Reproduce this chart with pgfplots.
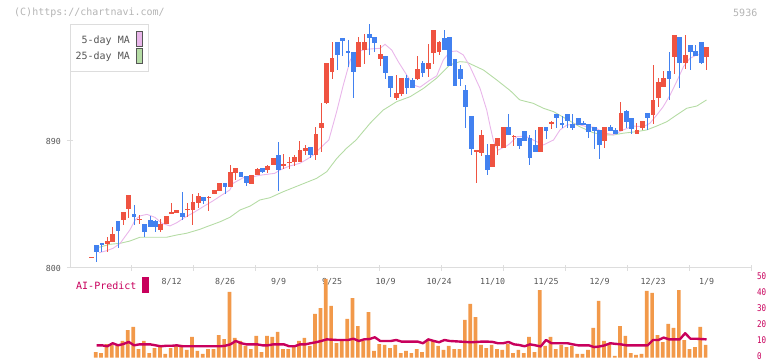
\documentclass[border=0pt]{standalone}
\usepackage{fontspec}
\usepackage{pgfplots}
\usepackage{pgfplotstable}
\pgfplotsset{compat=1.18}
\newfontfamily\cf{DejaVu Sans Mono}
\newfontfamily\cfn[FakeStretch=0.82]{DejaVu Sans Mono}
\definecolor{cred}{HTML}{EF5341}
\definecolor{cblue}{HTML}{4281F0}
\definecolor{cpink}{HTML}{E9B6EA}
\definecolor{cgreen}{HTML}{B5DCA5}
\definecolor{corange}{HTML}{F2994A}
\definecolor{cmag}{HTML}{C8005C}
\definecolor{caxis}{HTML}{DDDDDD}
\definecolor{ctext}{HTML}{555555}
\definecolor{clight}{HTML}{B4B4B4}

\pgfplotstableread{
i o h l c
0 807.4 807.8 807.4 807.8
3 817.2 821.8 811.3 819.1
4 818.6 829.1 818.6 824.1
6 834.2 839.7 830.5 839.7
7 841.6 851.7 835.2 851.7
9 834.3 837.6 831.0 834.7
13 827.1 834.5 825.7 831.2
14 831.4 836.9 831.4 836.9
15 838.5 846.3 838.5 839.7
16 839.2 841.3 839.2 841.3
18 841.6 845.8 836.4 842.0
19 841.3 852.2 830.7 846.8
20 846.1 853.2 842.5 851.0
22 850.1 851.2 840.4 850.5
23 852.7 855.3 852.7 855.3
24 854.8 860.2 854.8 860.2
26 857.6 873.2 857.6 868.0
27 867.3 870.9 862.4 870.9
30 859.7 865.9 859.7 865.9
31 866.1 870.9 866.1 870.2
33 869.7 873.0 867.5 872.3
34 873.0 878.0 873.0 878.0
36 872.5 880.8 870.2 873.9
37 874.9 878.7 870.2 875.3
38 875.3 880.1 872.5 878.7
39 875.1 890.0 875.1 883.6
40 882.9 887.2 880.1 885.0
42 880.1 899.9 876.5 895.0
43 899.2 916.9 882.4 902.8
44 917.2 945.3 916.4 945.3
45 939.1 960.2 933.9 948.8
50 942.7 963.7 942.7 960.2
51 954.5 965.8 944.6 960.2
54 948.1 958.0 943.4 951.7
57 920.5 936.8 919.3 924.0
58 923.5 934.7 922.1 934.7
61 933.9 950.2 933.2 941.0
63 941.0 958.7 935.6 945.3
64 952.6 968.7 944.8 968.7
65 953.1 960.9 951.2 960.2
72 882.9 883.6 860.5 883.3
73 881.7 897.8 879.6 894.3
75 871.8 887.9 871.8 887.9
76 886.7 892.1 879.9 892.1
77 885.3 899.9 885.3 899.9
79 893.3 894.3 886.5 893.7
84 882.4 899.9 882.4 899.9
86 902.6 904.2 898.5 903.0
96 890.2 899.9 885.3 899.9
99 897.1 917.6 897.1 909.7
102 895.0 902.8 895.0 897.8
103 899.2 904.2 897.8 904.2
105 908.4 943.9 902.0 919.1
106 920.5 934.7 914.1 931.8
107 928.3 939.6 928.3 934.7
109 949.5 965.1 937.5 965.1
111 945.3 965.1 941.0 951.0
115 949.5 956.6 940.3 956.6
}\redtab

\pgfplotstableread{
i o h l c
1 816.1 816.1 804.5 811.6
2 817.7 817.7 811.6 816.3
5 833.3 833.3 814.4 826.5
8 838.3 844.6 830.5 836.4
10 831.2 831.2 822.2 825.7
11 834.0 836.9 829.3 829.3
12 833.3 834.0 825.7 829.3
17 839.0 854.1 834.0 836.4
21 850.3 850.3 845.4 847.7
25 860.2 860.2 852.4 857.6
28 868.0 868.0 864.7 864.7
29 865.2 865.2 858.3 860.5
32 870.9 870.9 867.5 868.2
35 880.1 889.3 854.8 869.7
41 885.7 885.7 878.2 880.1
46 960.2 960.2 940.5 951.2
47 963.0 963.0 950.5 961.1
48 953.8 961.6 942.7 952.6
49 953.1 953.1 920.7 939.1
52 965.8 972.9 951.2 963.2
53 963.7 963.7 953.3 959.5
55 950.2 950.2 934.2 938.4
56 936.1 936.1 921.2 927.6
59 934.7 936.8 923.5 927.6
60 933.2 934.7 927.6 927.6
62 945.3 946.7 935.6 938.4
66 963.0 968.7 954.5 954.5
67 963.7 963.7 943.4 943.4
68 948.1 948.1 929.2 929.2
69 941.0 943.9 929.2 934.2
70 926.4 929.9 899.4 914.3
71 907.7 907.7 880.3 884.5
74 880.1 887.9 866.1 869.7
78 899.9 909.1 894.5 894.5
80 892.1 892.1 884.5 886.7
81 897.1 897.1 890.2 890.2
82 892.1 894.3 873.2 878.2
83 887.2 897.8 882.4 882.4
85 899.9 899.9 891.4 897.1
87 909.1 909.1 899.2 906.3
88 902.8 907.7 899.2 901.3
89 909.1 909.1 899.2 904.2
90 902.0 909.1 897.8 899.2
91 906.3 906.3 901.3 901.3
92 902.8 904.2 901.3 901.3
93 902.0 902.0 892.1 896.4
94 899.9 899.9 884.5 897.1
95 897.8 897.8 877.5 887.4
97 899.9 901.3 897.1 897.1
98 897.8 899.2 895.0 895.0
100 911.1 912.0 899.2 903.5
101 906.3 906.3 895.0 898.5
104 909.7 909.7 897.8 906.3
108 939.6 953.1 919.1 933.9
110 963.7 963.7 927.6 945.3
112 958.0 958.0 940.3 953.1
113 953.8 958.0 950.2 950.2
114 960.2 960.2 944.6 945.3
}\bluetab

\begin{document}
\begin{tikzpicture}[x=1pt,y=1pt]
\useasboundingbox (0,0) rectangle (772,361);

% ---------------- price panel ----------------
\begin{axis}[
  at={(70pt,93pt)}, anchor=south west, scale only axis,
  width=682pt, height=244pt,
  xmin=-3.98, xmax=123.5, ymin=800, ymax=972.9,
  axis lines*=left,
  axis line style={draw=caxis, line width=1pt},
  xtick={7.607,19.196,30.785,42.374,53.963,65.552,77.141,88.730,100.318,111.907,123.496},
  xticklabels={},
  extra x ticks={15,25,35,45,55,65,75,85,95,105,115},
  extra x tick labels={8/12,8/26,9/9,9/25,10/9,10/24,11/10,11/25,12/9,12/23,1/9},
  extra x tick style={major tick length=0pt,
     xticklabel style={font=\cf\fontsize{8.3}{10}\selectfont, text=ctext, anchor=base, inner sep=0pt, yshift=-16.2pt}},
  ytick={800,890}, yticklabels={800,890},
  tick align=center, major tick length=6pt,
  tick style={draw=caxis, line width=1pt},
  yticklabel style={font=\cf\fontsize{8.3}{10}\selectfont, text=ctext, anchor=east, inner sep=0pt, xshift=-6pt},
  clip=false,
]
% moving averages
\addplot[cgreen, line width=0.9pt] coordinates {
(1.5,814.7)(3.5,816.8)(5.4,817.5)(7.2,819.1)(9.1,821.8)(14.1,821.8)(16.0,823.4)(17.8,824.6)
(20.3,827.4)(21.6,829.3)(24.1,832.8)(25.9,835.9)(27.8,841.1)(29.7,843.9)(31.5,848.2)(33.4,849.8)
(35.9,854.1)(39.0,858.8)(42.1,863.5)(44.0,868.2)(45.9,877.7)(47.7,884.8)(49.5,890.7)(52.1,902.5)
(54.6,912.0)(57.1,917.9)(59.6,921.4)(62.1,927.3)(64.5,934.4)(67.0,943.9)(68.9,946.2)(70.2,945.8)
(73.3,940.3)(75.8,933.2)(78.3,925.7)(80.1,919.1)(82.6,916.7)(84.5,913.2)(86.4,910.8)(88.9,905.4)
(91.3,900.1)(93.8,895.9)(95.7,894.3)(97.6,894.3)(99.4,895.5)(101.9,896.6)(103.8,897.8)(105.7,900.6)
(107.6,903.7)(109.4,908.4)(111.3,913.2)(113.2,914.8)(115.0,919.1)};
\addplot[cpink, line width=0.9pt] coordinates {
(1.46,810.8)(2.9,812.3)(4.1,814.0)(5.4,817.5)(7.2,826.9)(8.2,834.0)(9.1,836.9)(10.4,838.0)
(11.9,835.9)(13.2,831.7)(14.7,829.8)(16.0,832.1)(17.5,835.9)(19.1,839.2)(20.9,843.4)(22.8,847.7)
(24.4,851.7)(25.9,855.3)(26.5,860.0)(28.4,864.0)(30.3,864.7)(31.5,865.7)(34.3,867.1)(35.3,869.5)
(37.1,872.3)(39.0,874.2)(40.3,877.0)(41.5,880.1)(43.4,887.2)(44.4,890.7)(45.9,911.3)(47.1,929.5)
(48.4,947.4)(49.6,953.3)(51.5,955.0)(54.0,955.7)(54.9,958.5)(56.15,954.5)(57.38,946.2)(58.95,936.8)
(60.19,929.7)(61.44,928.1)(63.31,933.2)(64.56,936.1)(65.79,947.4)(67.05,953.3)(68.30,953.8)(69.53,951.0)
(70.79,942.7)(72.66,927.3)(73.91,912.0)(74.52,901.0)(75.14,890.7)(75.46,887.2)(76.07,883.6)(77.64,886.5)
(78.3,888.3)(79.5,893.0)(81.1,893.5)(82.6,890.7)(84.5,887.2)(86.4,890.7)(87.6,897.8)(88.9,901.3)
(90.7,902.0)(92.6,900.1)(94.1,899.7)(95.4,896.6)(96.3,895.5)(97.6,894.3)(99.4,897.8)(101.3,900.6)
(103.2,900.1)(104.4,902.5)(105.7,908.4)(106.9,914.3)(108.2,922.6)(109.4,932.0)(110.7,942.7)(111.9,948.6)
(113.2,951.0)(114.4,951.4)(115.1,952.0)};
% wicks
\addplot[draw=none, mark=none, error bars/.cd, y dir=both, y explicit, error mark=none,
  error bar style={line width=1pt, draw=cred}]
  table[x=i, y expr={(\thisrow{h}+\thisrow{l})/2}, y error expr={(\thisrow{h}-\thisrow{l})/2}] {\redtab};
\addplot[draw=none, mark=none, error bars/.cd, y dir=both, y explicit, error mark=none,
  error bar style={line width=1pt, draw=cblue}]
  table[x=i, y expr={(\thisrow{h}+\thisrow{l})/2}, y error expr={(\thisrow{h}-\thisrow{l})/2}] {\bluetab};
% bodies
\addplot[draw=none, mark=none, error bars/.cd, y dir=both, y explicit, error mark=none,
  error bar style={line width=4.8pt, draw=cred}]
  table[x=i, y expr={(\thisrow{o}+\thisrow{c})/2}, y error expr={max(abs(\thisrow{c}-\thisrow{o})/2,0.35)}] {\redtab};
\addplot[draw=none, mark=none, error bars/.cd, y dir=both, y explicit, error mark=none,
  error bar style={line width=4.8pt, draw=cblue}]
  table[x=i, y expr={(\thisrow{o}+\thisrow{c})/2}, y error expr={max(abs(\thisrow{c}-\thisrow{o})/2,0.35)}] {\bluetab};
\end{axis}

% ---------------- volume / AI panel ----------------
\begin{axis}[
  at={(70pt,3.3pt)}, anchor=south west, scale only axis,
  width=682pt, height=80.4pt,
  xmin=-3.98, xmax=123.5, ymin=0, ymax=50,
  hide x axis,
  axis y line*=right, y axis line style={draw=none},
  ytick={0,10,20,30,40,50}, yticklabels={0,10,20,30,40,50},
  major tick length=0pt,
  yticklabel style={font=\cfn\fontsize{9.2}{11}\selectfont, text=cmag, anchor=west, inner sep=0pt, xshift=5pt, yshift=1.5pt},
  clip=false,
]
\addplot[ybar, bar width=3.7pt, bar shift=-0.9pt, fill=corange, draw=none] coordinates {
(1,3.5)(2,2.9)(3,8.5)(4,7.9)(5,7.3)(6,10.4)(7,17.2)(8,19.1)(9,5.4)(10,10.4)
(11,2.9)(12,6.0)(13,7.3)(14,2.3)(15,6.0)(16,7.3)(17,7.9)(18,4.8)(19,12.9)(20,4.2)
(21,2.3)(22,5.4)(23,5.4)(24,14.1)(25,11.6)(26,40.9)(27,12.3)(28,10.4)(29,7.3)(30,5.4)
(31,13.5)(32,3.5)(33,13.5)(34,12.9)(35,16.0)(36,5.4)(37,5.4)(38,7.3)(39,10.4)(40,12.3)
(41,7.3)(42,27.2)(43,30.9)(44,49.0)(45,32.2)(46,9.1)(47,10.4)(48,24.1)(49,37.1)(50,19.7)
(51,10.4)(52,28.4)(53,4.2)(54,8.5)(55,7.9)(56,6.0)(57,7.9)(58,2.9)(59,4.2)(60,2.9)
(61,5.4)(62,3.5)(63,11.0)(64,11.0)(65,7.3)(66,4.8)(67,7.3)(68,5.4)(69,5.4)(70,23.5)
(71,33.4)(72,25.3)(73,7.9)(74,6.0)(75,7.9)(76,5.4)(77,4.8)(78,8.5)(79,2.9)(80,4.8)
(81,2.9)(82,12.9)(83,3.5)(84,42.1)(85,7.3)(86,12.9)(87,5.4)(88,7.9)(89,6.6)(90,7.3)
(91,2.3)(92,2.3)(93,4.8)(94,18.5)(95,35.3)(96,10.4)(97,9.1)(98,1.1)(99,19.7)(100,13.5)
(101,2.9)(102,1.7)(103,2.3)(104,41.5)(105,40.3)(106,14.1)(107,9.7)(108,21.0)(109,18.5)(110,42.1)
(111,11.0)(112,5.4)(113,6.6)(114,19.1)(115,7.9)};
\addplot[cmag, line width=2.4pt, line join=round] coordinates {
(1,7.7)(2,7.7)(3,7.1)(4,9.0)(5,7.7)(6,8.5)(7,9.8)(8,7.7)(9,8.3)(10,8.3)
(11,8.3)(12,7.7)(13,7.1)(14,7.4)(15,7.4)(16,7.7)(17,7.1)(18,7.1)(19,7.1)(20,7.1)
(21,7.1)(22,7.1)(23,7.1)(24,7.1)(25,7.4)(26,8.3)(27,10.4)(28,9.0)(29,8.3)(30,8.3)
(31,8.3)(32,7.7)(33,7.7)(34,8.3)(35,8.3)(36,8.3)(37,7.1)(38,7.1)(39,8.3)(40,8.3)
(41,9.0)(42,9.6)(43,10.4)(44,11.4)(45,11.2)(46,11.0)(47,11.0)(48,11.0)(49,11.8)(50,10.4)
(51,11.4)(52,11.6)(53,12.7)(54,10.4)(55,10.4)(56,10.4)(57,11.0)(58,10.0)(59,10.0)(60,10.0)
(61,10.0)(62,9.0)(63,11.4)(64,10.4)(65,9.6)(66,11.0)(67,10.4)(68,10.2)(69,10.0)(70,9.8)
(71,9.6)(72,9.8)(73,10.0)(74,10.0)(75,9.8)(76,9.0)(77,9.0)(78,9.8)(79,8.3)(80,7.9)
(81,7.1)(82,8.3)(83,7.7)(84,7.0)(85,11.0)(86,9.0)(87,9.0)(88,9.0)(89,9.0)(90,8.3)
(91,7.7)(92,7.7)(93,7.7)(94,6.6)(95,7.0)(96,7.7)(97,9.0)(98,8.6)(99,8.3)(100,7.7)
(101,7.7)(102,7.7)(103,7.7)(104,7.7)(105,11.0)(106,11.0)(107,12.5)(108,11.4)(109,11.4)(110,11.4)
(111,15.2)(112,11.8)(113,11.8)(114,11.6)(115,11.4)};
\end{axis}

% ---------------- texts and legend ----------------
\node[anchor=west, inner sep=0pt, text=clight, font=\cf\fontsize{10}{12}\selectfont] at (14,348.5) {(C)https://chartnavi.com/};
\node[anchor=east, inner sep=0pt, text=clight, font=\cf\fontsize{10}{12}\selectfont] at (757.5,348.5) {5936};
\draw[draw=caxis, fill=white, line width=1pt] (70,289.7) rectangle (148.3,336.7);
\node[anchor=east, inner sep=0pt, text=ctext, font=\cf\fontsize{10}{12}\selectfont] at (130,320.5) {5-day MA};
\node[anchor=east, inner sep=0pt, text=ctext, font=\cf\fontsize{10}{12}\selectfont] at (130,303.8) {25-day MA};
\draw[draw=ctext, fill=cpink, line width=0.8pt] (136.6,314.6) rectangle (142.4,329.4);
\draw[draw=ctext, fill=cgreen, line width=0.8pt] (136.6,298.0) rectangle (142.4,312.4);
\node[anchor=west, inner sep=0pt, text=cmag, font=\cf\fontsize{10}{12}\selectfont] at (76,75) {AI-Predict};
\fill[cmag] (142,68) rectangle (149,84);
\end{tikzpicture}
\end{document}
